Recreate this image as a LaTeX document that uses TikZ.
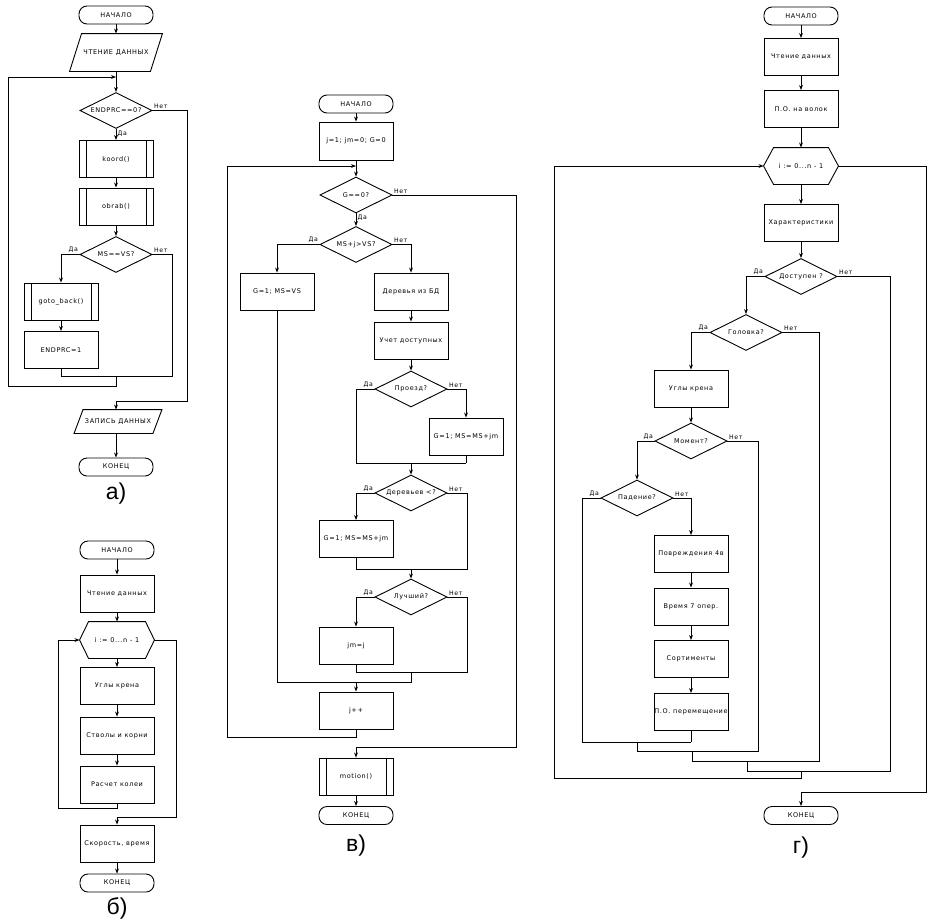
\documentclass[tikz,border=0pt]{standalone}
\usepackage{fontspec}
\setmainfont{DejaVu Sans}
\newfontfamily\bxf[LetterSpace=10]{DejaVu Sans}
\newfontfamily\capf{Liberation Sans}
\usetikzlibrary{shapes.geometric,arrows.meta}
\newcommand\bxtext{\bxf\fontsize{6.5pt}{7pt}\selectfont}
\newcommand\lbtext{\bxf\fontsize{6.2pt}{7pt}\selectfont}
\newcommand\hexo[2]{\draw (#1.west) -- ([xshift=#2]#1.north west) -- ([xshift=-#2]#1.north east) -- (#1.east) -- ([xshift=-#2]#1.south east) -- ([xshift=#2]#1.south west) -- cycle;}
\newcommand\paro[2]{\draw ([xshift=#2]#1.north west) -- ([xshift=#2]#1.north east) -- ([xshift=-#2]#1.south east) -- ([xshift=-#2]#1.south west) -- cycle;}
\begin{document}
\begin{tikzpicture}[x=1pt,y=-1pt,line width=0.9pt,
  every node/.style={font=\bxtext},
  term/.style={draw, rounded corners=8pt, minimum width=74pt, minimum height=18pt, inner sep=0pt},
  proc/.style={draw, minimum width=74pt, minimum height=37pt, inner sep=0pt},
  predef/.style={proc, path picture={\draw[line width=0.9pt] ([xshift=7pt]path picture bounding box.north west) -- ([xshift=7pt]path picture bounding box.south west) ([xshift=-7pt]path picture bounding box.north east) -- ([xshift=-7pt]path picture bounding box.south east);}},
  dec/.style={draw, diamond, aspect=2, minimum width=72pt, minimum height=36pt, inner sep=0pt},
  hexn/.style={minimum width=74pt, minimum height=36pt, inner sep=0pt},
  ion/.style={minimum width=80pt, minimum height=37pt, inner sep=0pt},
  lbl/.style={font=\lbtext, inner sep=1.2pt},
  ln/.style={line width=0.9pt},
  arr/.style={line width=0.9pt, -{Stealth[length=5pt,width=3.8pt]}},
  capt/.style={font=\capf\fontsize{23pt}{25pt}\selectfont, inner sep=0pt}]
\useasboundingbox (0,0) rectangle (945,922);

% ---------------- panel a ----------------
\node[term] (a1) at (116,15) {НАЧАЛО};
\node[ion] (a2) at (116,52.5) {ЧТЕНИЕ ДАННЫХ};
\paro{a2}{6pt}
\node[dec] (a3) at (116,110.5) {ENDPRC==0?};
\node[predef] (a4) at (116,159) {koord()};
\node[predef] (a5) at (116,206.5) {obrab()};
\node[dec] (a6) at (116,254.5) {MS==VS?};
\node[predef] (a7) at (61,301.5) {goto\_back()};
\node[proc] (a8) at (61,350) {ENDPRC=1};
\node[ion, minimum width=78pt, minimum height=23pt] (a9) at (118,421.5) {ЗАПИСЬ ДАННЫХ};
\paro{a9}{4.5pt}
\node[term] (a10) at (116,467) {КОНЕЦ};
\node[capt] (acap) at (116,494) {а)};

\coordinate (aj1) at (116,77);
\coordinate (aL) at (8,77);
\coordinate (am1) at (116,376);
\coordinate (am2) at (116,386);
\coordinate (aN) at (172,376);
\coordinate (aR) at (187,401);
\coordinate (aj2) at (116,401);

\draw[arr] (a1) -- (a2.north -| a1);
\draw[arr] (a2.south -| a1) -- (a3);
\draw[arr] (am1) -- (am2) -| (aL) -- (aj1);
\draw[arr] (a3) -- (a4);
\node[lbl, anchor=north west] at (a3.south) {Да};
\draw[arr] (a4) -- (a5);
\draw[arr] (a5) -- (a6);
\draw[arr] (a6.west) -| (a7.north);
\node[lbl, anchor=south east] at (a6.west) {Да};
\draw[arr] (a7) -- (a8);
\draw[ln] (a6.east) -| (aN) -- (a8.south |- aN) -- (a8.south);
\node[lbl, anchor=south west] at (a6.east) {Нет};
\draw[arr] (a3.east) -| (aR) -- (aj2) -- (aj2 |- a9.north);
\node[lbl, anchor=south west] at (a3.east) {Нет};
\draw[arr] (a9.south -| a10) -- (a10);

% ---------------- panel b ----------------
\node[term] (b1) at (117,550) {НАЧАЛО};
\node[proc] (b2) at (117,593.5) {Чтение данных};
\node[hexn] (b3) at (117,640) {i := 0...n - 1};
\hexo{b3}{9pt}
\node[proc] (b4) at (117,686) {Углы крена};
\node[proc] (b5) at (117,735.5) {Стволы и корни};
\node[proc] (b6) at (117,784.5) {Расчет колеи};
\node[proc] (b7) at (117,843.5) {Скорость, время};
\node[term] (b8) at (117,883) {КОНЕЦ};
\node[capt] (bcap) at (117,908) {б)};

\coordinate (bm) at (117,808);
\coordinate (bL) at (58,640);
\coordinate (bR) at (176,817);
\coordinate (bj) at (117,817);

\draw[arr] (b1) -- (b2);
\draw[arr] (b2) -- (b3);
\draw[arr] (b3) -- (b4);
\draw[arr] (b4) -- (b5);
\draw[arr] (b5) -- (b6);
\draw[arr] (b6.south) -- (bm) -| (bL) -- (b3.west);
\draw[arr] (b3.east) -| (bR) -- (bj) -- (b7.north);
\draw[arr] (b7) -- (b8);

% ---------------- panel v ----------------
\node[term] (v1) at (356,104) {НАЧАЛО};
\node[proc, minimum height=38pt] (v2) at (356,141) {j=1; jm=0; G=0};
\node[dec] (v3) at (356,195) {G==0?};
\node[dec] (v4) at (356,244.5) {MS+j>VS?};
\node[proc] (v5) at (277,291.5) {G=1; MS=VS};
\node[proc] (v6) at (411,291.5) {Деревья из БД};
\node[proc] (v7) at (411,340.5) {Учет доступных};
\node[dec] (v8) at (411,389) {Проезд?};
\node[proc] (v9) at (466,436.5) {G=1; MS=MS+jm};
\node[dec] (v10) at (411,493) {Деревьев <?};
\node[proc] (v11) at (356,539) {G=1; MS=MS+jm};
\node[dec] (v12) at (411,597) {Лучший?};
\node[proc] (v13) at (356,645.5) {jm=j};
\node[proc] (v14) at (356,710.5) {j++};
\node[predef] (v15) at (356,776.5) {motion()};
\node[term] (v16) at (356,815.5) {КОНЕЦ};
\node[capt] (vcap) at (356,846) {в)};

\coordinate (vj) at (356,166);
\coordinate (vm1L) at (356,463);
\coordinate (vm1R) at (466,463);
\coordinate (vm1) at (411,463);
\coordinate (vm2R) at (467,569);
\coordinate (vm2L) at (356,569);
\coordinate (vm2) at (411,569);
\coordinate (vm3R) at (467,672);
\coordinate (vm3L) at (356,672);
\coordinate (vm3) at (411,672);
\coordinate (vm4) at (411,682);
\coordinate (vm4L) at (277,682);
\coordinate (vm5) at (356,682);
\coordinate (vm6) at (356,737);
\coordinate (vL) at (227,166);
\coordinate (vR) at (516,747);
\coordinate (vm7) at (356,747);

\draw[arr] (v1) -- (v2);
\draw[arr] (v2) -- (v3);
\draw[arr] (v3) -- (v4);
\node[lbl, anchor=north west] at (v3.south) {Да};
\draw[arr] (v4.west) -| (v5.north);
\node[lbl, anchor=south east] at (v4.west) {Да};
\draw[arr] (v4.east) -| (v6.north);
\node[lbl, anchor=south west] at (v4.east) {Нет};
\draw[arr] (v6) -- (v7);
\draw[arr] (v7) -- (v8);
\draw[ln] (v8.west) -| (vm1L) -- (vm1R);
\node[lbl, anchor=south east] at (v8.west) {Да};
\draw[arr] (v8.east) -| (v9.north);
\node[lbl, anchor=south west] at (v8.east) {Нет};
\draw[ln] (v9.south) -- (vm1R);
\draw[arr] (vm1) -- (v10.north);
\draw[arr] (v10.west) -| (v11.north);
\node[lbl, anchor=south east] at (v10.west) {Да};
\draw[ln] (v10.east) -| (vm2R) -- (vm2L) -- (v11.south);
\node[lbl, anchor=south west] at (v10.east) {Нет};
\draw[arr] (vm2) -- (v12.north);
\draw[arr] (v12.west) -| (v13.north);
\node[lbl, anchor=south east] at (v12.west) {Да};
\draw[ln] (v12.east) -| (vm3R) -- (vm3L) -- (v13.south);
\node[lbl, anchor=south west] at (v12.east) {Нет};
\draw[ln] (vm3) -- (vm4) -- (vm4L) -- (v5.south);
\draw[arr] (vm5) -- (v14.north);
\draw[arr] (v14.south) -- (vm6) -| (vL) -- (vj);
\draw[arr] (v3.east) -| (vR) -- (vm7) -- (v15.north);
\node[lbl, anchor=south west] at (v3.east) {Нет};
\draw[arr] (v15) -- (v16);

% ---------------- panel g ----------------
\node[term] (g1) at (801,16) {НАЧАЛО};
\node[proc] (g2) at (801,57) {Чтение данных};
\node[proc] (g3) at (801,109) {П.О. на волок};
\node[hexn] (g4) at (801,166) {i := 0...n - 1};
\hexo{g4}{10pt}
\node[proc] (g5) at (801,223) {Характеристики};
\node[dec] (g6) at (801,276.5) {Доступен ?};
\node[dec] (g7) at (746,332.5) {Головка?};
\node[proc] (g8) at (691,388.5) {Углы крена};
\node[dec] (g9) at (691,441) {Момент?};
\node[dec] (g10) at (637,498) {Падение?};
\node[proc] (g11) at (691,554) {Повреждения 4в};
\node[proc] (g12) at (691,606.5) {Время 7 опер.};
\node[proc] (g13) at (691,659) {Сортименты};
\node[proc] (g14) at (691,712) {П.О. перемещение};
\node[term] (g15) at (801,815.5) {КОНЕЦ};
\node[capt] (gcap) at (801,848) {г)};

\coordinate (gR1) at (890,771);
\coordinate (gm4L) at (747,771);
\coordinate (gR2) at (819,761);
\coordinate (gm3L) at (692,761);
\coordinate (gR3) at (758,751);
\coordinate (gm2L) at (637,751);
\coordinate (gL4) at (582,742);
\coordinate (gm1R) at (691,742);
\coordinate (gm1) at (637,742);
\coordinate (gm2) at (692,751);
\coordinate (gm3) at (747,761);
\coordinate (gm4) at (801,771);
\coordinate (gm5) at (801,778);
\coordinate (gL) at (554,166);
\coordinate (gR5) at (926,792);
\coordinate (gm6) at (801,792);

\draw[arr] (g1) -- (g2);
\draw[arr] (g2) -- (g3);
\draw[arr] (g3) -- (g4);
\draw[arr] (g4) -- (g5);
\draw[arr] (g5) -- (g6);
\draw[arr] (g6.west) -| (g7.north);
\node[lbl, anchor=south east] at (g6.west) {Да};
\draw[ln] (g6.east) -| (gR1) -- (gm4L);
\node[lbl, anchor=south west] at (g6.east) {Нет};
\draw[arr] (g7.west) -| (g8.north);
\node[lbl, anchor=south east] at (g7.west) {Да};
\draw[ln] (g7.east) -| (gR2) -- (gm3L);
\node[lbl, anchor=south west] at (g7.east) {Нет};
\draw[arr] (g8) -- (g9);
\draw[arr] (g9.west) -| (g10.north);
\node[lbl, anchor=south east] at (g9.west) {Да};
\draw[ln] (g9.east) -| (gR3) -- (gm2L);
\node[lbl, anchor=south west] at (g9.east) {Нет};
\draw[ln] (g10.west) -| (gL4) -- (gm1R);
\node[lbl, anchor=south east] at (g10.west) {Да};
\draw[arr] (g10.east) -| (g11.north);
\node[lbl, anchor=south west] at (g10.east) {Нет};
\draw[arr] (g11) -- (g12);
\draw[arr] (g12) -- (g13);
\draw[arr] (g13) -- (g14);
\draw[ln] (g14.south) -- (gm1R);
\draw[ln] (gm1) -- (gm2L);
\draw[ln] (gm2) -- (gm3L);
\draw[ln] (gm3) -- (gm4L);
\draw[arr] (gm4) -- (gm5) -| (gL) -- (g4.west);
\draw[arr] (g4.east) -| (gR5) -- (gm6) -- (g15.north);
\end{tikzpicture}
\end{document}
